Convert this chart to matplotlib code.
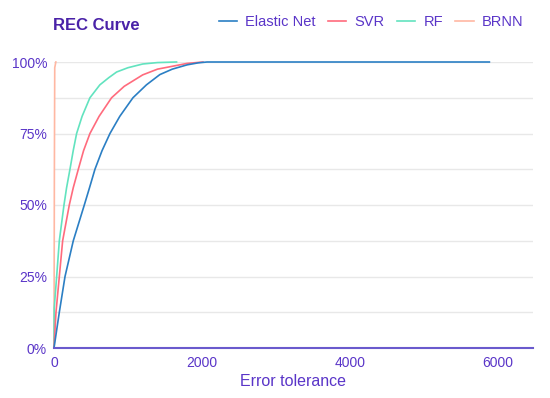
import matplotlib
matplotlib.use("Agg")
import matplotlib.pyplot as plt
from matplotlib.ticker import FixedLocator, PercentFormatter

plt.rcParams['font.family'] = ['Liberation Sans', 'DejaVu Sans']

# values (error tolerance, share of samples)
enet_x = [0, 72, 149, 261, 410, 480, 554, 650, 757, 890, 1068, 1250, 1432, 1600, 1800, 1950, 2070, 5890]
enet_y = [0, 0.125, 0.25, 0.375, 0.50, 0.56, 0.625, 0.69, 0.75, 0.81, 0.875, 0.92, 0.956, 0.975, 0.99, 0.997, 1.0, 1.0]
svr_x = [0, 27, 72, 117, 207, 260, 329, 400, 486, 610, 779, 950, 1200, 1400, 1600, 1800, 2015]
svr_y = [0, 0.125, 0.25, 0.375, 0.50, 0.56, 0.625, 0.69, 0.75, 0.81, 0.875, 0.915, 0.955, 0.975, 0.985, 0.995, 1.0]
rf_x = [0, 3, 36, 72, 135, 170, 216, 260, 306, 380, 486, 620, 740, 847, 1000, 1200, 1400, 1658]
rf_y = [0, 0.14, 0.25, 0.375, 0.50, 0.56, 0.625, 0.69, 0.75, 0.81, 0.875, 0.92, 0.945, 0.965, 0.98, 0.993, 0.998, 1.0]
brnn_x = [0, 5, 10, 25]
brnn_y = [0, 0.60, 0.98, 1.0]

labels = ['Elastic Net', 'SVR', 'RF', 'BRNN']
colors = ['#2b7fc4', '#ff6b7d', '#62e3bf', '#ffb8a3']
purple = '#5a35c8'

fig = plt.figure(figsize=(5.5, 3.98), dpi=100)
ax = fig.add_axes([54/550, 50/398, 479/550, 286/398])

series = [(enet_x, enet_y), (svr_x, svr_y), (rf_x, rf_y), (brnn_x, brnn_y)]
# draw BRNN first so it sits underneath, like the reference
for i in [3, 2, 1, 0]:
    xs, ys = series[i]
    ax.plot(xs, ys, color=colors[i], lw=1.2, label=labels[i], clip_on=False, zorder=3)

ax.set_xlim(0, 6480)
ax.set_ylim(0, 1)
ax.set_xticks([0, 2000, 4000, 6000])
ax.set_yticks([0, 0.25, 0.5, 0.75, 1.0])
ax.yaxis.set_minor_locator(FixedLocator([0.125, 0.375, 0.625, 0.875]))
ax.yaxis.set_major_formatter(PercentFormatter(1.0, decimals=0))
ax.grid(axis='y', which='both', color='#e8e8e8', lw=1)
ax.set_axisbelow(True)
ax.tick_params(axis='both', which='both', length=0, labelsize=10, colors=purple)
ax.tick_params(axis='x', pad=6)
ax.tick_params(axis='y', pad=5)
for s in ['top', 'right', 'left']:
    ax.spines[s].set_visible(False)
ax.spines['bottom'].set_color('#6a5acd')
ax.spines['bottom'].set_linewidth(1.5)
ax.spines['bottom'].set_zorder(4)

ax.set_xlabel('Error tolerance', fontsize=11.5, color=purple, labelpad=3)

fig.text(53/550, 1 - 25/398, 'REC Curve', fontsize=12, fontweight='bold',
         color='#4a22a8', va='center', ha='left')

handles, labs = ax.get_legend_handles_labels()
order = [labs.index(l) for l in labels]
ax.legend([handles[i] for i in order], labels, loc='center right',
          bbox_to_anchor=(529/550, 1 - 22/398), bbox_transform=fig.transFigure,
          ncol=4, frameon=False, fontsize=10.5, labelcolor=purple,
          handlelength=1.25, handletextpad=0.55, columnspacing=0.85, borderaxespad=0)

fig.savefig('out.png', dpi=100)
